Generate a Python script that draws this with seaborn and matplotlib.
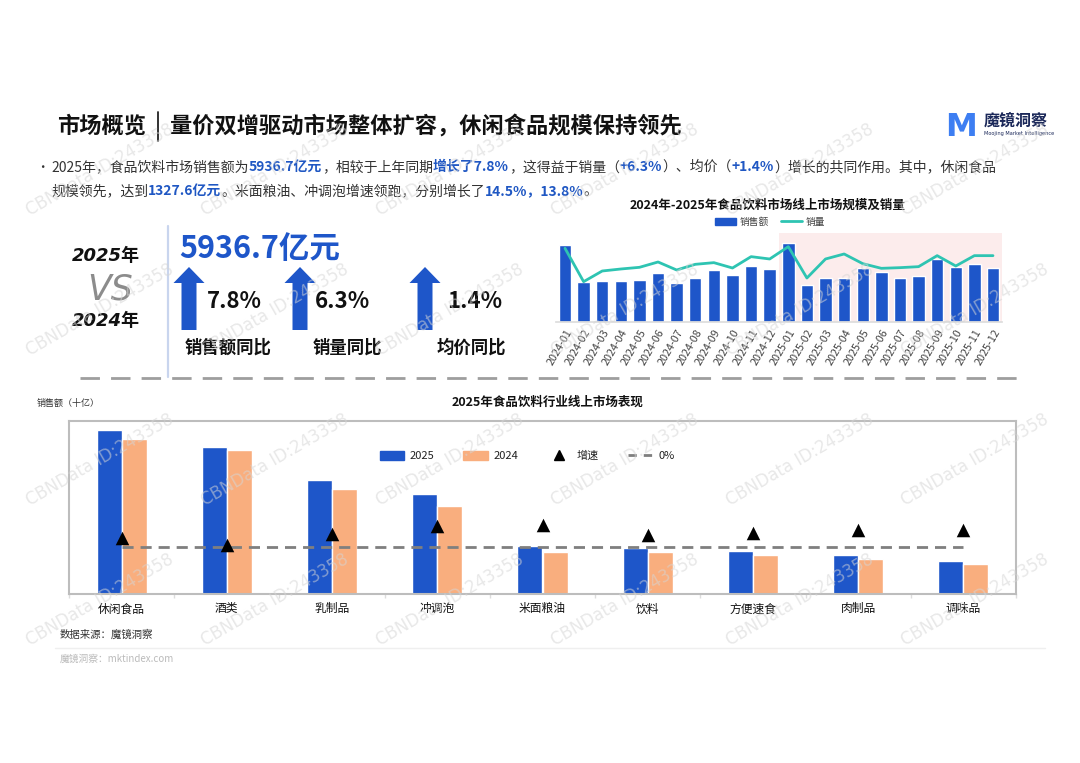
import matplotlib
matplotlib.use('Agg')
import numpy as np
import pandas as pd
import matplotlib.pyplot as plt
import seaborn as sns
from matplotlib.lines import Line2D
from matplotlib.patches import Polygon, Rectangle

sns.set_theme(style='white')
plt.rcParams['font.family'] = ['Noto Sans CJK SC', 'DejaVu Sans']
plt.rcParams['axes.unicode_minus'] = False

# ---- данные: помесячно (亿元) и объём продаж ----
months = ['2024-01', '2024-02', '2024-03', '2024-04', '2024-05', '2024-06',
          '2024-07', '2024-08', '2024-09', '2024-10', '2024-11', '2024-12',
          '2025-01', '2025-02', '2025-03', '2025-04', '2025-05', '2025-06',
          '2025-07', '2025-08', '2025-09', '2025-10', '2025-11', '2025-12']
sales_month = [730, 375, 391, 387, 400, 464, 368, 419, 492, 445, 527, 505,
               746, 352, 413, 413, 508, 476, 419, 432, 600, 521, 546, 511]
volume_month = [22.0, 12.0, 15.2, 15.8, 16.3, 17.9, 15.5, 17.2, 17.7, 16.1, 19.5, 18.8,
                22.5, 13.1, 18.8, 20.3, 17.4, 16.0, 16.2, 16.5, 19.8, 16.7, 19.8, 19.8]

# ---- данные: категории (十亿) ----
categories = ['休闲食品', '酒类', '乳制品', '冲调泡', '米面粮油', '饮料', '方便速食', '肉制品', '调味品']
sales_2025 = [132.8, 118.7, 92.3, 80.7, 38.9, 37.5, 34.5, 31.8, 26.7]
sales_2024 = [125.5, 116.8, 84.7, 71.0, 34.0, 34.3, 31.8, 28.3, 24.3]
growth = [5.6, 1.2, 8.5, 13.8, 14.5, 7.8, 8.9, 11.1, 11.1]

kpi_values = ['7.8%', '6.3%', '1.4%']
kpi_labels = ['销售额同比', '销量同比', '均价同比']

BLUE = '#1E56C9'
HL = '#1F57C3'
ORANGE = '#F9AE7E'
TEAL = '#2EC4B2'
TXT = '#333333'

W, H = 1080, 763
fig = plt.figure(figsize=(W / 100, H / 100), dpi=100)
fig.patch.set_facecolor('white')


def fx(x):
    return x / W


def fy(y):
    return 1 - y / H


renderer = fig.canvas.get_renderer()


def draw_runs(x, y, parts, size):
    for s, bold in parts:
        t = fig.text(fx(x), fy(y), s, fontsize=size, color=HL if bold else TXT,
                     fontweight='bold' if bold else 'normal', va='center', ha='left')
        x += t.get_window_extent(renderer).width


def up_arrow(cx, top, bottom, shaft_w=15, head_w=31, head_h=16):
    pts = [(cx, top), (cx + head_w / 2, top + head_h), (cx + shaft_w / 2, top + head_h),
           (cx + shaft_w / 2, bottom), (cx - shaft_w / 2, bottom),
           (cx - shaft_w / 2, top + head_h), (cx - head_w / 2, top + head_h)]
    fig.add_artist(Polygon([(fx(a), fy(b)) for a, b in pts], closed=True,
                           transform=fig.transFigure, color=BLUE, lw=0))


# ---- заголовок ----
fig.text(fx(57), fy(126), '市场概览', fontsize=16, fontweight='bold', va='center', color='#111111')
fig.add_artist(Line2D([fx(158), fx(158)], [fy(112), fy(141)], color='#222222', lw=1.3))
fig.text(fx(170), fy(126), '量价双增驱动市场整体扩容，休闲食品规模保持领先', fontsize=16,
         fontweight='bold', va='center', color='#111111')

# логотип
fig.text(fx(961), fy(127), 'M', fontsize=23, fontweight='bold', color='#3D7EF2',
         va='center', ha='center', family=['DejaVu Sans'])
fig.text(fx(984), fy(121), '魔镜洞察', fontsize=11.5, fontweight='bold', color='#1B2859', va='center')
fig.text(fx(984), fy(134), 'Moojing Market Intelligence', fontsize=3.6, color='#1B2859', va='center',
         family=['DejaVu Sans'])

# ---- текст ----
fig.text(fx(36), fy(167), '•', fontsize=9, color=TXT, va='center')
draw_runs(51, 167, [('2025年，食品饮料市场销售额为', False), ('5936.7亿元', True),
                    ('，相较于上年同期', False), ('增长了7.8%', True), ('，这得益于销量（', False),
                    ('+6.3%', True), ('）、均价（', False), ('+1.4%', True),
                    ('）增长的共同作用。其中，休闲食品', False)], 10)
draw_runs(51, 191, [('规模领先，达到', False), ('1327.6亿元', True),
                    ('。米面粮油、冲调泡增速领跑，分别增长了', False), ('14.5%，13.8%', True),
                    ('。', False)], 10)

# ---- KPI ----
fig.text(fx(106), fy(256), '2025年', fontsize=13, fontweight='bold', fontstyle='italic',
         family=['DejaVu Sans', 'Noto Sans CJK SC'], ha='center', va='center', color='#111111')
fig.text(fx(110), fy(289), 'VS', fontsize=25, fontstyle='italic', family=['DejaVu Sans'],
         ha='center', va='center', color='#8C8C8C')
fig.text(fx(106), fy(321), '2024年', fontsize=13, fontweight='bold', fontstyle='italic',
         family=['DejaVu Sans', 'Noto Sans CJK SC'], ha='center', va='center', color='#111111')
fig.add_artist(Line2D([fx(168), fx(168)], [fy(226), fy(377)], color='#C9D5EE', lw=1.6))
fig.text(fx(179), fy(249), '5936.7亿元', fontsize=22, fontweight='bold', color=BLUE, va='center')

arrow_x = [189, 300, 425]
value_x = [207, 315, 447]
label_x = [185, 313, 437]
for ax_, vx_, lx_, v, lab in zip(arrow_x, value_x, label_x, kpi_values, kpi_labels):
    up_arrow(ax_, 267, 330)
    fig.text(fx(vx_), fy(301), v, fontsize=16, fontweight='bold', color='#111111', va='center')
    fig.text(fx(lx_), fy(348), lab, fontsize=12.5, fontweight='bold', color='#111111', va='center')

fig.add_artist(Line2D([fx(80), fx(1022)], [fy(378), fy(378)], color='#9E9E9E', lw=2,
                      linestyle=(0, (7, 4))))

# ---- верхний график: помесячно ----
df_month = pd.DataFrame({'月份': months, '销售额': sales_month, '销量': volume_month})
ax_t = fig.add_axes([fx(555.7), fy(321.7), (1002.3 - 555.7) / W, (321.7 - 233.3) / H])
ax_t.axvspan(11.5, 23.5, color='#FCECEC', lw=0, zorder=0)
sns.barplot(data=df_month, x='月份', y='销售额', color=BLUE, saturation=1, width=0.67, ax=ax_t)
ax_t.set_ylim(0, 841)
ax_v = ax_t.twinx()
sns.lineplot(x=np.arange(len(months)), y=df_month['销量'], color=TEAL, lw=2, ax=ax_v)
ax_v.set_ylim(0, 26.5)
ax_t.set_xlim(-0.5, 23.5)
for a in (ax_t, ax_v):
    a.set_xlabel('')
    a.set_ylabel('')
    a.set_yticks([])
    for s in a.spines.values():
        s.set_visible(False)
ax_t.spines['bottom'].set_visible(True)
ax_t.spines['bottom'].set_color('#DDDDDD')
ax_t.set_xticks(range(len(months)))
ax_t.set_xticklabels(months, rotation=60, ha='right', rotation_mode='anchor', fontsize=7.8, color='#444444')
ax_t.tick_params(axis='x', length=0, pad=4)

fig.text(fx(768), fy(205), '2024年-2025年食品饮料市场线上市场规模及销量', fontsize=9, fontweight='bold',
         ha='center', va='center', color='#111111')
top_handles = [Rectangle((0, 0), 1, 1, color=BLUE), Line2D([0], [0], color=TEAL, lw=2)]
fig.legend(top_handles, ['销售额', '销量'], loc='center', bbox_to_anchor=(fx(770), fy(222)),
           ncol=2, frameon=False, fontsize=7, handlelength=2.2, handleheight=0.8,
           columnspacing=1.2, handletextpad=0.4, labelcolor='#444444')

# ---- нижний график: категории ----
df_cat = pd.DataFrame({'品类': categories * 2,
                       '销售额': sales_2025 + sales_2024,
                       '年份': ['2025'] * len(categories) + ['2024'] * len(categories)})
ax_b = fig.add_axes([fx(69), fy(594), (1016 - 69) / W, (594 - 420.7) / H])
sns.barplot(data=df_cat, x='品类', y='销售额', hue='年份', hue_order=['2025', '2024'],
            palette=[BLUE, ORANGE], saturation=1, width=0.476, ax=ax_b, legend=False)
ax_b.set_ylim(0, 140.3)
ax_b.set_xlim(-0.5, len(categories) - 0.5)
ax_g = ax_b.twinx()
ax_g.hlines(0, 0, len(categories) - 1, colors='#7F7F7F', lw=2, linestyles=[(0, (4, 2.5))])
sns.scatterplot(x=np.arange(len(categories)), y=growth, marker='^', s=95, color='black',
                linewidth=0, ax=ax_g, zorder=5)
ax_g.set_ylim(-31.5, 84)
ax_b.set_xlim(-0.5, len(categories) - 0.5)
for a in (ax_b, ax_g):
    a.set_xlabel('')
    a.set_ylabel('')
    a.set_yticks([])
for s in ax_g.spines.values():
    s.set_visible(False)
for s in ax_b.spines.values():
    s.set_visible(True)
    s.set_color('#BDBDBD')
    s.set_linewidth(1.5)
ax_b.set_xticks(range(len(categories)))
ax_b.set_xticklabels(categories, fontsize=8.5, color='#111111')
ax_b.set_xticks(np.arange(-0.5, len(categories), 1), minor=True)
ax_b.tick_params(axis='x', which='major', length=0, pad=6)
ax_b.tick_params(axis='x', which='minor', length=3, color='#DDDDDD', width=1, bottom=True)

fig.text(fx(37), fy(403), '销售额（十亿）', fontsize=6.5, color=TXT, va='center')
fig.text(fx(548), fy(402), '2025年食品饮料行业线上市场表现', fontsize=9, fontweight='bold',
         ha='center', va='center', color='#111111')
bot_handles = [Rectangle((0, 0), 1, 1, color=BLUE), Rectangle((0, 0), 1, 1, color=ORANGE),
               Line2D([0], [0], marker='^', color='black', lw=0, markersize=7),
               Line2D([0], [0], color='#7F7F7F', lw=2, linestyle=(0, (3, 2.5)))]
fig.legend(bot_handles, ['2025', '2024', '增速', '0%'], loc='center', bbox_to_anchor=(fx(527), fy(456)),
           ncol=4, frameon=False, fontsize=8, handlelength=2.2, handleheight=0.9,
           columnspacing=2.6, handletextpad=0.5, labelcolor='#222222')

# ---- подвал ----
fig.text(fx(60), fy(635), '数据来源：魔镜洞察', fontsize=7.5, color=TXT, va='center')
fig.add_artist(Line2D([fx(55), fx(1045)], [fy(648), fy(648)], color='#EFEFEF', lw=1))
fig.text(fx(60), fy(659), '魔镜洞察：mktindex.com', fontsize=7, color='#BBBBBB', va='center')

# водяные знаки
for wy in [170, 310, 460, 600]:
    for wx in [100, 275, 450, 625, 800, 975]:
        fig.text(fx(wx), fy(wy), 'CBNData ID:243358', fontsize=12, rotation=30, color='#D5D5D5',
                 alpha=0.55, ha='center', va='center', family=['DejaVu Sans'], zorder=10)

fig.savefig('out.png', dpi=100, facecolor='white')
